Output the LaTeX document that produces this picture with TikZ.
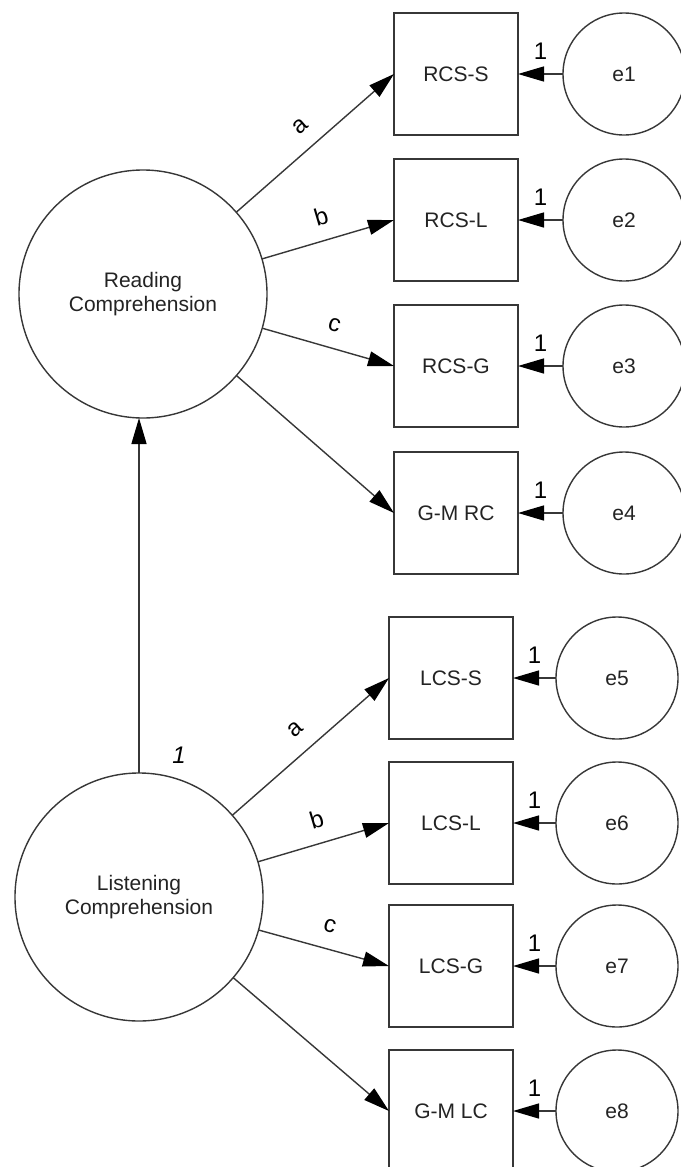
\documentclass[tikz,border=0pt]{standalone}
\usepackage{fontspec}
\setmainfont{Liberation Sans}
\usepackage{tikz}
\usetikzlibrary{arrows.meta, positioning}
\definecolor{linegray}{RGB}{55, 55, 55}
\definecolor{textgray}{RGB}{35, 35, 35}

\begin{document}
\begin{tikzpicture}[
    x=0.5pt, y=-0.5pt, % one unit = one pixel of the reference
    latent/.style={circle, draw=linegray, line width=0.7pt, minimum size=124pt, inner sep=0pt, outer sep=0pt, align=center, font=\fontsize{10.5}{12}\selectfont, text=textgray},
    errterm/.style={circle, draw=linegray, line width=0.7pt, minimum size=61pt, inner sep=0pt, outer sep=0pt, font=\fontsize{10.5}{12}\selectfont, text=textgray},
    indicator/.style={rectangle, draw=linegray, line width=0.7pt, minimum width=62pt, minimum height=61pt, inner sep=0pt, outer sep=0pt, font=\fontsize{10.5}{12}\selectfont, text=textgray},
    arrow/.style={-{Triangle[length=13pt, width=7.5pt, color=black]}, line width=0.7pt, draw=linegray},
    wlabel/.style={font=\fontsize{12}{14}\selectfont, text=black},
]
\useasboundingbox (0,0) rectangle (680,1167);

% Latent factors
\node[latent] (rc) at (143, 294) {Reading\\Comprehension};
\node[latent] (lc) at (139, 897) {Listening\\Comprehension};

% Reading indicators
\node[indicator] (rcss) at (456, 74) {RCS-S};
\node[indicator] (rcsl) at (456, 220) {RCS-L};
\node[indicator] (rcsg) at (456, 366) {RCS-G};
\node[indicator] (gmrc) at (456, 513) {G-M RC};

% Listening indicators
\node[indicator] (lcss) at (451, 678) {LCS-S};
\node[indicator] (lcsl) at (451, 823) {LCS-L};
\node[indicator] (lcsg) at (451, 966) {LCS-G};
\node[indicator] (gmlc) at (451, 1111) {G-M LC};

% Error terms
\node[errterm] (e1) at (624, 74) {e1};
\node[errterm] (e2) at (624, 220) {e2};
\node[errterm] (e3) at (624, 366) {e3};
\node[errterm] (e4) at (624, 513) {e4};
\node[errterm] (e5) at (617, 678) {e5};
\node[errterm] (e6) at (617, 823) {e6};
\node[errterm] (e7) at (617, 966) {e7};
\node[errterm] (e8) at (617, 1111) {e8};

% Loadings
\draw[arrow] (rc) -- (rcss.west) node[wlabel, midway, sloped, above=4.5pt] {a};
\draw[arrow] (rc) -- (rcsl.west) node[wlabel, midway, sloped, above=4pt] {b};
\draw[arrow] (rc) -- (rcsg.west) node[wlabel, midway, sloped, above=4.5pt] {c};
\draw[arrow] (rc) -- (gmrc.west);

\draw[arrow] (lc) -- (lcss.west) node[wlabel, midway, sloped, above=4.5pt] {a};
\draw[arrow] (lc) -- (lcsl.west) node[wlabel, midway, sloped, above=4pt] {b};
\draw[arrow] (lc) -- (lcsg.west) node[wlabel, midway, sloped, above=4.5pt] {c};
\draw[arrow] (lc) -- (gmlc.west);

% Errors into indicators
\draw[arrow] (e1) -- (rcss.east) node[wlabel, midway, above=3.5pt] {1};
\draw[arrow] (e2) -- (rcsl.east) node[wlabel, midway, above=3.5pt] {1};
\draw[arrow] (e3) -- (rcsg.east) node[wlabel, midway, above=3.5pt] {1};
\draw[arrow] (e4) -- (gmrc.east) node[wlabel, midway, above=3.5pt] {1};
\draw[arrow] (e5) -- (lcss.east) node[wlabel, midway, above=3.5pt] {1};
\draw[arrow] (e6) -- (lcsl.east) node[wlabel, midway, above=3.5pt] {1};
\draw[arrow] (e7) -- (lcsg.east) node[wlabel, midway, above=3.5pt] {1};
\draw[arrow] (e8) -- (gmlc.east) node[wlabel, midway, above=3.5pt] {1};

% Listening -> Reading
\draw[arrow] (lc.north) -- (lc.north |- rc.south) node[wlabel, pos=0.05, right=13pt] {\itshape 1};

\end{tikzpicture}
\end{document}
